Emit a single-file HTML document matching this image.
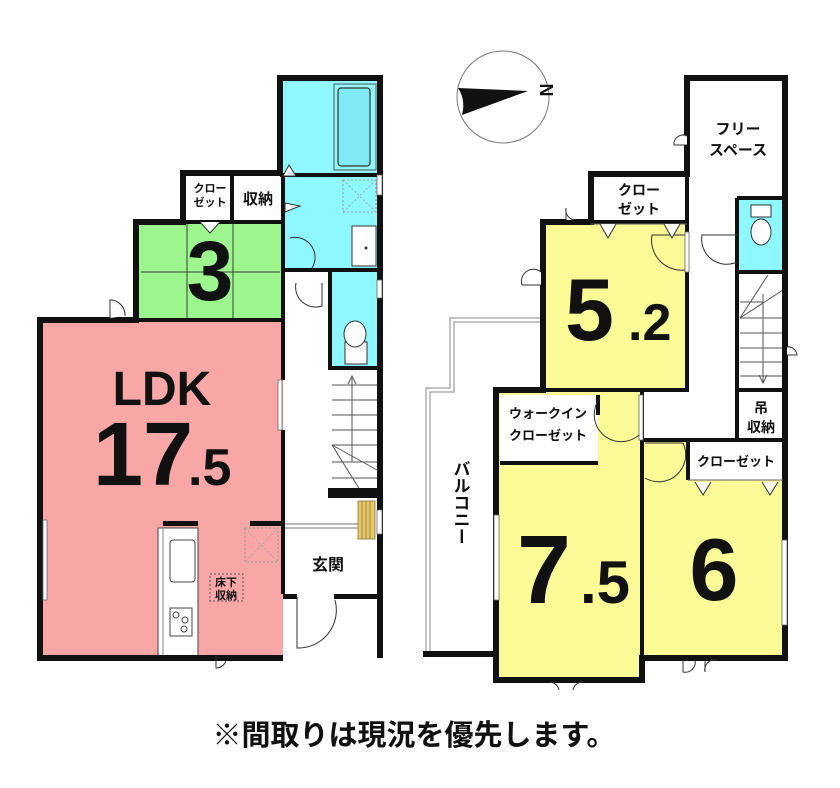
<!DOCTYPE html>
<html><head><meta charset="utf-8">
<style>
html,body{margin:0;padding:0;background:#fff}
svg{display:block}
text{font-family:"Liberation Sans","Noto Sans CJK JP",sans-serif;font-weight:bold;fill:#111}
</style></head>
<body>
<svg width="840" height="788" viewBox="0 0 840 788" xmlns="http://www.w3.org/2000/svg">
<!-- LEFT PLAN fills -->
<rect x="280" y="78" width="100" height="97" fill="#8ef7ff"/>
<rect x="283" y="175" width="97" height="95" fill="#8ef7ff"/>
<rect x="330" y="270" width="50" height="98" fill="#8ef7ff"/>
<rect x="136" y="222" width="147" height="98" fill="#9df58e"/>
<rect x="40" y="320" width="243" height="338" fill="#f8a6a6"/>
<rect x="338" y="88" width="32" height="78" rx="3" fill="#7fe9f5" stroke="#333" stroke-width="1.2"/>
<rect x="334" y="84" width="42" height="86" fill="none" stroke="#555" stroke-width="1"/>
<g stroke="#3a3a3a" stroke-width="1"><line x1="187" y1="222" x2="187" y2="320"/><line x1="233" y1="222" x2="233" y2="320"/><line x1="141" y1="272" x2="280" y2="272"/></g>
<rect x="343" y="180" width="33" height="32" fill="none" stroke="#999" stroke-dasharray="2,2"/>
<path d="M343 180 L376 212 M376 180 L343 212" stroke="#aaa" stroke-dasharray="2,2"/>
<rect x="352" y="226" width="24" height="40" fill="#fff" stroke="#333"/>
<circle cx="366" cy="248" r="1.5" fill="#333"/>
<rect x="345" y="342" width="22" height="22" fill="#fff" stroke="#333"/>
<ellipse cx="355" cy="334" rx="11" ry="13" fill="#fff" stroke="#333"/>
<rect x="332" y="370" width="45" height="120" fill="#fff"/>
<g stroke="#555" stroke-width="1">
<line x1="332" y1="385" x2="377" y2="385"/><line x1="332" y1="400" x2="377" y2="400"/><line x1="332" y1="415" x2="377" y2="415"/><line x1="332" y1="430" x2="377" y2="430"/><line x1="332" y1="445" x2="377" y2="445"/><line x1="332" y1="462" x2="377" y2="462"/><line x1="332" y1="478" x2="377" y2="478"/>
<line x1="332" y1="445" x2="377" y2="470"/><line x1="332" y1="445" x2="360" y2="490"/>
<line x1="352" y1="378" x2="352" y2="462"/><path d="M348 384 L352 376 L356 384" fill="none"/>
</g>
<rect x="328" y="488" width="52" height="10" fill="#111"/>
<rect x="358" y="501" width="17" height="38" fill="#e7c766" stroke="#8a7a40" stroke-width="0.8"/>
<g stroke="#8a7a40" stroke-width="0.8"><line x1="362" y1="501" x2="362" y2="539"/><line x1="366" y1="501" x2="366" y2="539"/><line x1="370" y1="501" x2="370" y2="539"/></g>
<line x1="283" y1="524" x2="358" y2="524" stroke="#777" stroke-width="1"/>
<line x1="283" y1="528" x2="358" y2="528" stroke="#777" stroke-width="1"/>
<rect x="283" y="594" width="14" height="5" fill="#111"/><rect x="334" y="594" width="46" height="5" fill="#111"/>
<path d="M297 597 V648 A38 38 0 0 0 335 600" fill="none" stroke="#333" stroke-width="1"/>
<rect x="158" y="528" width="40" height="128" fill="#fff" stroke="#444"/>
<line x1="163" y1="528" x2="163" y2="656" stroke="#888"/>
<rect x="170" y="540" width="25" height="42" rx="3" fill="#fff" stroke="#444"/>
<rect x="170" y="608" width="22" height="28" fill="#fff" stroke="#444"/>
<circle cx="176" cy="615" r="3" fill="none" stroke="#444"/><circle cx="185" cy="620" r="3" fill="none" stroke="#444"/><circle cx="184" cy="629" r="3" fill="none" stroke="#444"/>
<rect x="163" y="521" width="35" height="5" fill="#111"/><rect x="250" y="521" width="33" height="5" fill="#111"/>
<rect x="245" y="528" width="33" height="34" fill="none" stroke="#999" stroke-dasharray="2,2"/>
<path d="M245 528 L278 562 M278 528 L245 562" stroke="#aaa" stroke-dasharray="2,2"/>
<rect x="210" y="574" width="33" height="27" fill="#f8a6a6" stroke="#555" stroke-dasharray="2,2"/>
<!-- left walls -->
<path d="M283 658 H40 V320 H136 V222 H183 V173 H280 V78 H380 V658" fill="none" stroke="#111" stroke-width="6"/>
<g stroke="#111" stroke-width="4" fill="none">
<path d="M283 175 V320"/><path d="M280 175 H380"/><path d="M232 173 V222 M136 222 H283"/>
<path d="M283 320 V380 M283 430 V522"/><path d="M40 320 H283"/>
<path d="M283 270 H380 M330 270 V368 H380"/>
<path d="M283 522 V594"/>
</g>
<rect x="43" y="520" width="4" height="80" fill="#fff" stroke="#666" stroke-width="0.8"/>
<rect x="278" y="380" width="4" height="50" fill="#fff" stroke="#666" stroke-width="0.8"/>
<rect x="377" y="175" width="5" height="20" fill="#fff" stroke="#666" stroke-width="0.8"/>
<rect x="377" y="280" width="5" height="18" fill="#fff" stroke="#666" stroke-width="0.8"/>
<rect x="377" y="510" width="5" height="24" fill="#fff" stroke="#666" stroke-width="0.8"/>
<path d="M110 318 V300 A15 15 0 0 1 125 316" fill="#fff" stroke="#333"/>
<path d="M290 238 A20 20 0 0 1 312 268" fill="none" stroke="#333"/>
<path d="M296 283 A20 20 0 0 0 322 306 V283" fill="none" stroke="#333"/>
<path d="M283 176 L296 176 L289 165Z" fill="#fff" stroke="#333"/>
<path d="M285 203 L300 206 L285 212Z" fill="#fff" stroke="#333"/>
<path d="M200 222 L210 233 L220 222" fill="#fff" stroke="#333"/>
<path d="M216 656 V668 A10 10 0 0 0 226 660" fill="none" stroke="#333"/>
<text x="210" y="192" font-size="11" text-anchor="middle">クロー</text>
<text x="210" y="206" font-size="11" text-anchor="middle">ゼット</text>
<text x="258" y="204" font-size="15" text-anchor="middle">収納</text>
<text x="210" y="300" font-size="84" text-anchor="middle">3</text>
<text x="162" y="405" font-size="48" text-anchor="middle">LDK</text>
<text x="93" y="485" font-size="90">17</text>
<text x="188" y="485" font-size="52">.5</text>
<text x="328" y="570" font-size="16" text-anchor="middle">玄関</text>
<text x="226" y="586" font-size="11" text-anchor="middle">床下</text>
<text x="226" y="599" font-size="11" text-anchor="middle">収納</text>

<!-- RIGHT PLAN -->
<rect x="543" y="222" width="144" height="168" fill="#fafa97"/>
<rect x="496" y="390" width="146" height="290" fill="#fafa97"/>
<rect x="642" y="440" width="143" height="218" fill="#fafa97"/>
<rect x="500" y="395" width="98" height="68" fill="#fff"/>
<rect x="688" y="440" width="97" height="40" fill="#fff"/>
<rect x="737" y="198" width="48" height="74" fill="#8ef7ff"/>
<path d="M543 318 H450 V388 H426 V655" fill="none" stroke="#888" stroke-width="1"/>
<path d="M543 322 H454 V392 H430 V655" fill="none" stroke="#888" stroke-width="1"/>
<rect x="423" y="651" width="75" height="6" fill="#111"/>
<ellipse cx="761" cy="232" rx="10" ry="13" fill="#fff" stroke="#333"/>
<rect x="751" y="205" width="20" height="12" fill="#fff" stroke="#333"/>
<g stroke="#555" stroke-width="1">
<line x1="740" y1="318" x2="783" y2="318"/><line x1="740" y1="333" x2="783" y2="333"/><line x1="740" y1="348" x2="783" y2="348"/><line x1="740" y1="362" x2="783" y2="362"/><line x1="740" y1="376" x2="783" y2="376"/>
<line x1="740" y1="318" x2="783" y2="290"/><line x1="740" y1="318" x2="768" y2="275"/><line x1="740" y1="302" x2="763" y2="302"/><line x1="763" y1="294" x2="763" y2="382"/>
<path d="M759 375 L763 383 L767 375" fill="none"/>
</g>
<g stroke="#111" fill="none">
<path d="M543 222 H591 V174 H687 V78 H785 V658 H642 V680 H496 V390 H543 Z" stroke-width="6"/>
<path d="M687 174 V390 H543 M591 222 H687" stroke-width="4"/>
<path d="M737 198 H785 M737 198 V390 H785 M737 272 H785 M737 440 V390" stroke-width="4"/>
<path d="M642 390 V658 M642 440 H785 M688 440 V480" stroke-width="4"/>
<path d="M500 463 H598 M598 395 V415" stroke-width="4"/>
</g>
<line x1="688" y1="480" x2="783" y2="480" stroke="#666"/>
<line x1="591" y1="224" x2="687" y2="224" stroke="#666"/>
<rect x="494" y="515" width="5" height="85" fill="#fff" stroke="#666" stroke-width="0.8"/>
<rect x="782" y="540" width="5" height="85" fill="#fff" stroke="#666" stroke-width="0.8"/>
<rect x="685" y="232" width="4" height="40" fill="#fff" stroke="#666" stroke-width="0.8"/>
<rect x="639" y="395" width="4" height="45" fill="#fff" stroke="#666" stroke-width="0.8"/>
<path d="M685 270 A30 30 0 0 1 652 235 H685" fill="none" stroke="#333"/>
<path d="M600 398 A27 27 0 0 0 639 435" fill="none" stroke="#333"/>
<path d="M645 478 A27 27 0 0 0 683 443 H645" fill="none" stroke="#333"/>
<path d="M737 235 H702 A25 25 0 0 0 737 262" fill="none" stroke="#333"/>
<path d="M541 285 H522 A12 12 0 0 1 541 272" fill="#fff" stroke="#333"/>
<path d="M566 220 V208 A10 10 0 0 0 575 220" fill="#fff" stroke="#333"/>
<path d="M687 145 H674 A9 9 0 0 1 687 136" fill="#fff" stroke="#333"/>
<path d="M787 355 H797 A9 9 0 0 0 787 347" fill="#fff" stroke="#333"/>
<path d="M683 660 V672 A10 10 0 0 0 695 660 M705 660 V672 A10 10 0 0 1 717 660" fill="none" stroke="#333"/>
<path d="M549 682 A10 10 0 0 1 559 690 M583 682 A10 10 0 0 0 573 690" fill="none" stroke="#333"/>
<path d="M600 224 L608 238 L616 224 M664 224 L672 238 L680 224" fill="#fff" stroke="#333"/>
<path d="M695 482 L703 495 L711 482 M762 482 L770 495 L778 482" fill="#fff" stroke="#333"/>
<circle cx="503" cy="97" r="46" fill="none" stroke="#777" stroke-width="1"/>
<path d="M458 88 Q466 100 462 115 L528 91 Z" fill="#111"/>
<text x="540" y="90" font-size="18" font-family="Liberation Serif,serif" font-weight="normal" transform="rotate(90 540 90)" text-anchor="middle">N</text>
<text x="738" y="134" font-size="15" text-anchor="middle">フリー</text>
<text x="738" y="155" font-size="15" text-anchor="middle">スペース</text>
<text x="639" y="195" font-size="14" text-anchor="middle">クロー</text>
<text x="639" y="214" font-size="14" text-anchor="middle">ゼット</text>
<text x="565" y="340" font-size="88">5</text>
<text x="628" y="340" font-size="52">.2</text>
<text x="517" y="603" font-size="97">7</text>
<text x="580" y="603" font-size="60">.5</text>
<text x="714" y="600" font-size="88" text-anchor="middle">6</text>
<text x="548" y="418" font-size="13" text-anchor="middle">ウォークイン</text>
<text x="548" y="440" font-size="13" text-anchor="middle">クローゼット</text>
<text x="761" y="413" font-size="14" text-anchor="middle">吊</text>
<text x="761" y="432" font-size="14" text-anchor="middle">収納</text>
<text x="736" y="466" font-size="13" text-anchor="middle">クローゼット</text>
<text x="460" y="460" font-size="17" style="writing-mode:vertical-rl;glyph-orientation-vertical:0" text-anchor="start">バルコニー</text>
<text x="414" y="745" font-size="29" text-anchor="middle">※間取りは現況を優先します。</text>
</svg>
</body></html>
